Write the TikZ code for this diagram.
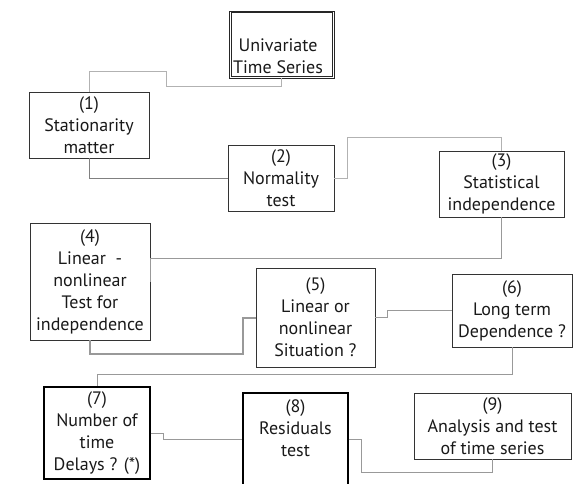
\documentclass[tikz,border=0pt]{standalone}
\usepackage{fontspec}
\setmainfont{PT Sans}
\begin{document}
\begin{tikzpicture}[x=1pt,y=-1pt,
  box/.style={draw=black!80, line width=0.8pt, inner sep=0pt, align=center, text=black!90,
    font=\fontsize{18}{22}\selectfont},
  boldbox/.style={box, draw=black, line width=1.4pt},
  dbox/.style={draw=black!85, line width=0.7pt, inner sep=0pt},
  dline/.style={draw=black!85, line width=0.7pt},
  txt/.style={inner sep=0pt, align=center, text=black!90, font=\fontsize{18}{22}\selectfont},
  conn/.style={draw=black!40, line width=0.9pt},
  connlight/.style={draw=black!30, line width=0.9pt},
  conndark/.style={draw=black!50, line width=1pt},
  connthick/.style={draw=black!40, line width=2pt}]
\useasboundingbox (0,0) rectangle (578,484);
\node[dbox, minimum width=105, minimum height=67] (u) at (281.5,44.5) {};
\draw[dline] ([shift={(2.2,2.2)}]u.north west) rectangle ([shift={(-2.2,-2.2)}]u.south east);
\node[txt] (ut) at (278,56) {Univariate\\Time Series};
\node[box, minimum width=120, minimum height=66] (n1) at (89,125) {(1)\\Stationarity\\matter};
\node[box, minimum width=106, minimum height=66] (n2) at (281,178) {(2)\\Normality\\test};
\node[box, minimum width=125, minimum height=66] (n3) at (501.5,184) {(3)\\Statistical\\independence};
\node[box, minimum width=120, minimum height=117] (n4) at (90,281.5) {(4)\\Linear\ \ -\\nonlinear\\Test for\\independence};
\node[box, minimum width=119, minimum height=99] (n5) at (315.5,317.5) {(5)\\Linear or\\nonlinear\\Situation ?};
\node[box, minimum width=120, minimum height=73] (n6) at (512,310.5) {(6)\\Long term\\Dependence ?};
\node[boldbox, minimum width=106, minimum height=92] (n7) at (97,433) {(7)\\Number of\\time\\Delays ? (*)};
\node[boldbox, minimum width=105, minimum height=92] (n8) at (295.5,439) {};
\node[txt] (n8t) at (295.5,428.5) {(8)\\Residuals\\test};
\node[box, minimum width=157, minimum height=66] (n9) at (492.5,426) {(9)\\Analysis and test\\of time series};

\draw[connlight] (u.south) -- ++(0,8) -| (166,71) -| (n1.north);
\draw[conndark] (n1.south) |- (n2.west);
\draw[connlight] (n2.east) -- ++(13,0) -- ++(0,-41) -| (n3.north);
\draw[conn] (n3.south) -- ++(0,41) -| (n4.east);
\draw[connthick] (n4.south) -- ++(0,14) -- ++(153,0) |- (n5.west);
\draw[conn] (n5.east) -- ++(12,0) |- (n6.west);
\draw[conn] (n6.south) -- ++(0,27) -| (n7.north);
\draw[conn] (n7.east) -- ++(13,0) |- (n8.west);
\draw[conn] (n8.east) -- ++(13,0) -- ++(0,33) -| (n9.south);
\end{tikzpicture}
\end{document}
